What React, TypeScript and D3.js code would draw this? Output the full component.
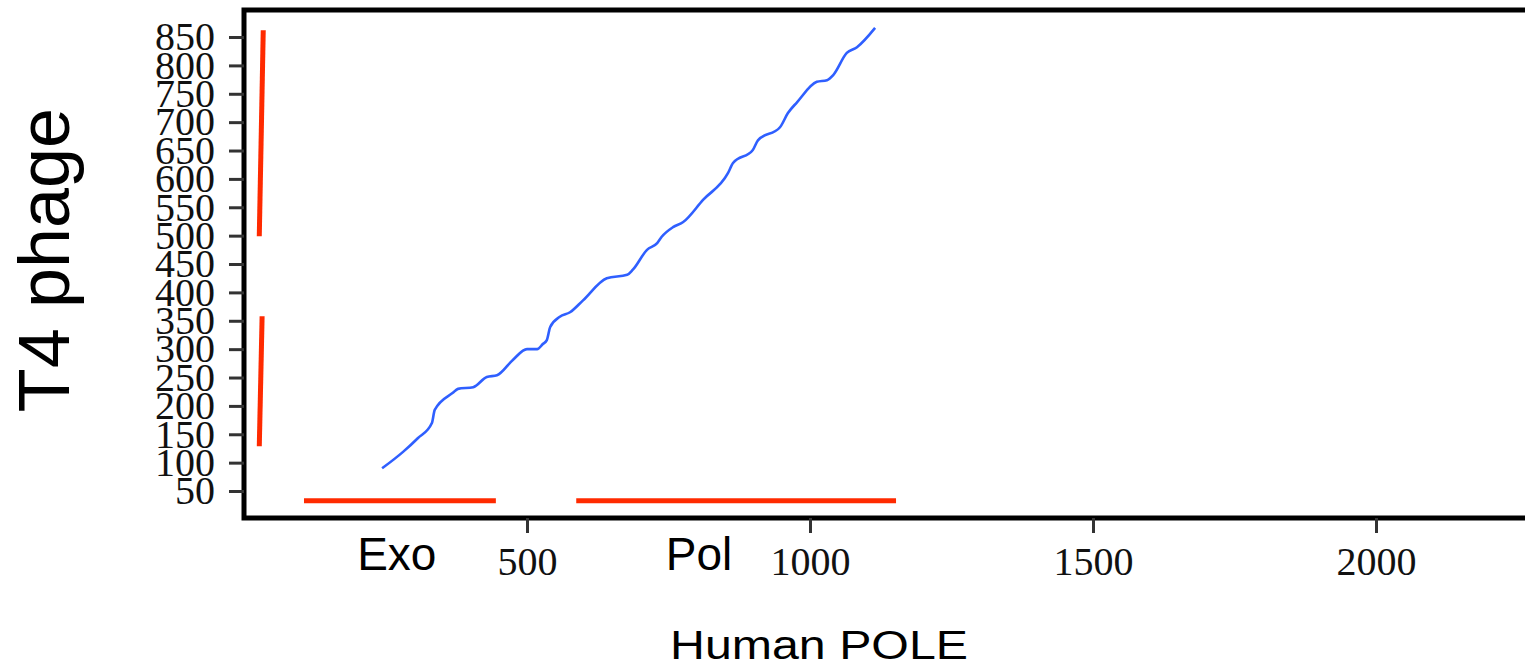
import React, { useRef, useEffect } from 'react';
import * as d3 from 'd3';

// alignment trace (Human POLE position, T4 phage position)
const alignX = [244, 281, 307, 332, 337, 369, 378, 405, 429, 447, 475, 500, 518, 528, 535, 541, 558, 576, 599, 641, 677, 687, 712, 730, 738, 758, 776, 811, 855, 864, 899, 908, 947, 961, 977, 1012, 1030, 1041, 1065, 1083, 1115];
const alignY = [90, 119, 143, 170, 193, 223, 230, 233, 251, 254, 281, 300, 300, 309, 316, 339, 357, 365, 386, 425, 431, 440, 475, 487, 498, 515, 524, 563, 610, 628, 651, 668, 691, 716, 735, 771, 774, 783, 822, 832, 866];

// domain annotations: [x1, y1, x2, y2] in data units
const domainNames = ['Exo', 'Pol', 'T4 pol', 'T4 exo'];
const domainSegments = [
  [106, 33, 445, 33],
  [587, 33, 1152, 33],
  [34, 862, 27, 499],
  [32, 358, 27, 129],
];
const labelNames = ['Exo', 'Pol'];
const labelPos = [[270, -89], [804, -89]];

const xTicks = [500, 1000, 1500, 2000];
const yTicks = d3.range(50, 851, 50);

const App = () => {
  const svgRef = useRef<SVGSVGElement>(null);

  useEffect(() => {
    const width = 1525;
    const height = 669;

    const x = d3.scaleLinear().domain([0, 2300]).range([244, 244 + 2300 * 0.566]);
    const y = d3.scaleLinear().domain([0, 900]).range([519.4, 519.4 - 900 * 0.5675]);

    const svg = d3.select(svgRef.current)
      .attr('width', width)
      .attr('height', height);

    svg.selectAll('*').remove();

    // frame
    svg.append('rect')
      .attr('x', 244)
      .attr('y', 10)
      .attr('width', 1400)
      .attr('height', 508)
      .attr('fill', 'none')
      .attr('stroke', '#000')
      .attr('stroke-width', 5);

    // y axis
    const gy = svg.append('g')
      .attr('transform', 'translate(244,0)')
      .call(d3.axisLeft(y).tickValues(yTicks).tickSize(15).tickPadding(14).tickFormat(d3.format('d')));
    gy.select('.domain').remove();
    gy.selectAll('line').attr('stroke', '#333').attr('stroke-width', 3);
    gy.selectAll('text')
      .attr('font-family', 'Liberation Serif')
      .attr('font-size', 40)
      .attr('fill', '#111');

    // x axis
    const gx = svg.append('g')
      .attr('transform', 'translate(0,518)')
      .call(d3.axisBottom(x).tickValues(xTicks).tickSize(15).tickPadding(14).tickFormat(d3.format('d')));
    gx.select('.domain').remove();
    gx.selectAll('line').attr('stroke', '#333').attr('stroke-width', 3);
    gx.selectAll('text')
      .attr('font-family', 'Liberation Serif')
      .attr('font-size', 40)
      .attr('fill', '#111');

    // alignment path
    const pts = alignX.map((v, i) => [v, alignY[i]] as [number, number]);
    svg.append('path')
      .datum(pts)
      .attr('fill', 'none')
      .attr('stroke', '#2f5fff')
      .attr('stroke-width', 2.6)
      .attr('stroke-linejoin', 'round')
      .attr('d', d3.line<[number, number]>().x(d => x(d[0])).y(d => y(d[1])).curve(d3.curveMonotoneX));

    // domain segments
    svg.selectAll('line.dom')
      .data(domainSegments)
      .enter().append('line')
      .attr('class', 'dom')
      .attr('data-name', (d, i) => domainNames[i])
      .attr('x1', d => x(d[0]))
      .attr('y1', d => y(d[1]))
      .attr('x2', d => x(d[2]))
      .attr('y2', d => y(d[3]))
      .attr('stroke', '#ff2a00')
      .attr('stroke-width', 5);

    // domain labels
    svg.selectAll('text.dlabel')
      .data(labelNames)
      .enter().append('text')
      .attr('class', 'dlabel')
      .attr('x', (d, i) => x(labelPos[i][0]))
      .attr('y', (d, i) => y(labelPos[i][1]))
      .attr('text-anchor', 'middle')
      .attr('font-family', 'Liberation Sans')
      .attr('font-size', 46)
      .attr('fill', '#000')
      .text(d => d);

    // axis titles
    svg.append('text')
      .attr('x', 819)
      .attr('y', 659)
      .attr('text-anchor', 'middle')
      .attr('font-family', 'Liberation Sans')
      .attr('font-size', 41)
      .attr('textLength', 298)
      .attr('lengthAdjust', 'spacingAndGlyphs')
      .text('Human POLE');

    svg.append('text')
      .attr('transform', 'translate(69,260) rotate(-90)')
      .attr('text-anchor', 'middle')
      .attr('font-family', 'Liberation Sans')
      .attr('font-size', 72)
      .text('T4 phage');
  }, []);

  return (
    <svg ref={svgRef} style={{ position: 'absolute', left: 0, top: 0, background: '#fff' }}></svg>
  );
};

export default App;
